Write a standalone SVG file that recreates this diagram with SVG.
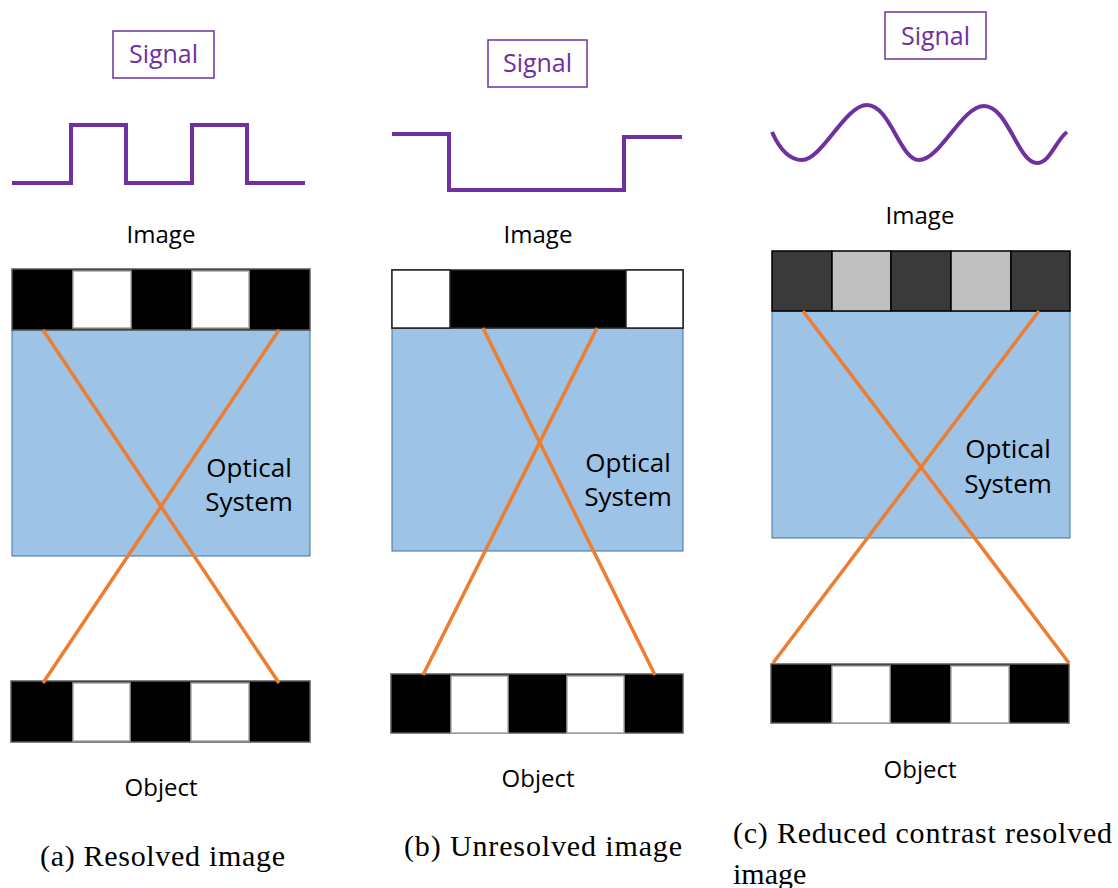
<svg xmlns="http://www.w3.org/2000/svg" width="1118" height="888" viewBox="0 0 1118 888">
  <defs>
    <style>
      .sigbox { fill: #FFFFFF; stroke: #7030A0; stroke-width: 1.5; }
      .sigtxt { font-family: "Open Sans", "DejaVu Sans", sans-serif; font-size: 25px; fill: #7030A0; text-anchor: middle; }
      .wave { fill: none; stroke: #7030A0; stroke-width: 4; stroke-linejoin: miter; }
      .lbl { font-family: "Open Sans", "DejaVu Sans", sans-serif; font-size: 24px; fill: #000000; text-anchor: middle; }
      .opt { font-size: 26px; }
      .optic { fill: #9DC3E6; stroke: #41719C; stroke-width: 1; }
      .blk { fill: #000000; stroke: #595959; stroke-width: 1.5; }
      .wht { fill: #FFFFFF; stroke: #A6A6A6; stroke-width: 1.5; }
      .dk { fill: #3A3A3A; stroke: #000000; stroke-width: 1.5; }
      .lt { fill: #BFBFBF; stroke: #000000; stroke-width: 1.5; }
      .ray { stroke: #ED7D31; stroke-width: 3.5; fill: none; }
      .cap { font-family: "Liberation Serif", "DejaVu Serif", serif; font-size: 30px; fill: #000000; }
    </style>
  </defs>
  <rect width="1118" height="888" fill="#FFFFFF"/>

  <!-- (a) resolved image -->
  <g id="a-signal">
    <rect class="sigbox" x="113" y="31" width="101" height="47"/>
    <text class="sigtxt" x="163.5" y="63">Signal</text>
    <path class="wave" d="M12,183 H71 V125 H126 V183 H192 V125 H247 V183 H305"/>
  </g>
  <g id="a-image-label"><text class="lbl" x="161" y="243">Image</text></g>
  <g id="a-optics">
    <rect class="optic" x="12" y="330" width="298" height="226"/>
    <text class="lbl opt" x="249" y="477">Optical</text>
    <text class="lbl opt" x="249" y="511">System</text>
  </g>
  <g id="a-image">
    <rect class="blk" x="12" y="269" width="298" height="61"/>
    <rect class="wht" x="73" y="271" width="58" height="57"/>
    <rect class="wht" x="192" y="271" width="57" height="57"/>
  </g>
  <g id="a-object">
    <rect class="blk" x="11" y="681" width="299" height="61"/>
    <rect class="wht" x="73" y="683" width="57" height="58"/>
    <rect class="wht" x="191" y="683" width="58" height="58"/>
  </g>
  <g id="a-object-label"><text class="lbl" x="161" y="796">Object</text></g>
  <g id="a-caption"><text class="cap" x="40" y="866" textLength="245">(a) Resolved image</text></g>

  <!-- (b) unresolved image -->
  <g id="b-signal">
    <rect class="sigbox" x="488" y="40" width="99" height="47"/>
    <text class="sigtxt" x="537.5" y="72">Signal</text>
    <path class="wave" d="M392,134 H449 V190 H624 V137 H682"/>
  </g>
  <g id="b-image-label"><text class="lbl" x="538" y="243">Image</text></g>
  <g id="b-optics">
    <rect class="optic" x="392" y="328" width="291" height="223"/>
    <text class="lbl opt" x="628" y="472">Optical</text>
    <text class="lbl opt" x="628" y="506">System</text>
  </g>
  <g id="b-image">
    <rect x="392" y="270" width="291" height="58" fill="#000000" stroke="#262626" stroke-width="1.5"/>
    <rect x="392" y="270" width="58" height="58" fill="#FFFFFF" stroke="#262626" stroke-width="1.5"/>
    <rect x="626" y="270" width="57" height="58" fill="#FFFFFF" stroke="#262626" stroke-width="1.5"/>
  </g>
  <g id="b-object">
    <rect class="blk" x="391" y="674" width="292" height="59"/>
    <rect class="wht" x="451" y="676" width="57" height="57"/>
    <rect class="wht" x="567" y="676" width="57" height="57"/>
  </g>
  <g id="b-object-label"><text class="lbl" x="538" y="787">Object</text></g>
  <g id="b-caption"><text class="cap" x="404" y="856" textLength="278">(b) Unresolved image</text></g>

  <!-- (c) reduced contrast resolved image -->
  <g id="c-signal">
    <rect class="sigbox" x="885" y="12" width="101" height="47"/>
    <text class="sigtxt" x="935.5" y="45">Signal</text>
    <path class="wave" d="M772,132 C780,150 790,160 802,160 C822,160 845,105 867,105 C890,105 900,160 919,160 C940,160 962,106 984,106 C1008,106 1018,163 1037,163 C1050,163 1056,140 1067,132"/>
  </g>
  <g id="c-image-label"><text class="lbl" x="920" y="224">Image</text></g>
  <g id="c-optics">
    <rect class="optic" x="772" y="311" width="298" height="227"/>
    <text class="lbl opt" x="1008" y="458">Optical</text>
    <text class="lbl opt" x="1008" y="493">System</text>
  </g>
  <g id="c-image">
    <rect class="dk" x="772" y="251" width="60" height="60"/>
    <rect class="lt" x="832" y="251" width="59" height="60"/>
    <rect class="dk" x="891" y="251" width="60" height="60"/>
    <rect class="lt" x="951" y="251" width="60" height="60"/>
    <rect class="dk" x="1011" y="251" width="59" height="60"/>
  </g>
  <g id="c-object">
    <rect class="blk" x="771" y="664" width="298" height="59"/>
    <rect class="wht" x="832" y="666" width="58" height="57"/>
    <rect class="wht" x="951" y="666" width="58" height="57"/>
  </g>
  <g id="c-object-label"><text class="lbl" x="920" y="778">Object</text></g>
  <g id="c-caption">
    <text class="cap" x="733" y="843" textLength="379">(c) Reduced contrast resolved</text>
    <text class="cap" x="733" y="884">image</text>
  </g>

  <!-- light rays crossing through each optical system -->
  <g id="connectors">
    <line class="ray" x1="43" y1="330" x2="279" y2="683"/>
    <line class="ray" x1="279" y1="330" x2="43" y2="683"/>
    <line class="ray" x1="483" y1="328" x2="655" y2="675"/>
    <line class="ray" x1="597" y1="328" x2="423" y2="675"/>
    <line class="ray" x1="803" y1="311" x2="1069" y2="663"/>
    <line class="ray" x1="1039" y1="311" x2="773" y2="663"/>
  </g>
</svg>
